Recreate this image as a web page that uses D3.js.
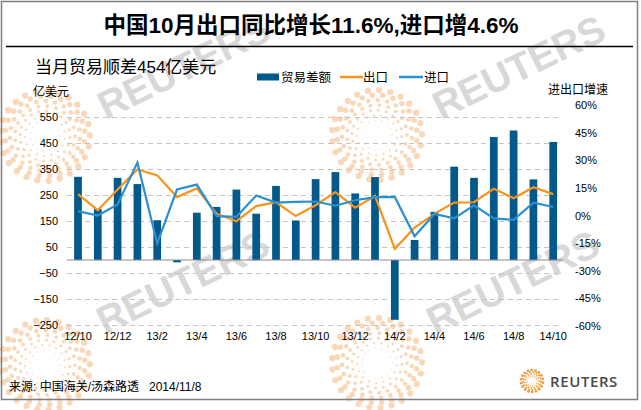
<!DOCTYPE html>
<html><head><meta charset="utf-8">
<script src="https://cdn.jsdelivr.net/npm/d3@7"></script>
<style>
body{margin:0;background:#fff;}
svg{display:block;font-family:"Liberation Sans","Noto Sans CJK SC",sans-serif;}
</style></head>
<body>
<div id="chart"></div>
<script>
// ---- data ----
const months = ["12/10","12/11","12/12","13/1","13/2","13/3","13/4","13/5","13/6","13/7","13/8","13/9","13/10","13/11","13/12","14/1","14/2","14/3","14/4","14/5","14/6","14/7","14/8","14/9","14/10"];
const tradeBalance = [320,196,316,292,153,-9,182,204,271,178,285,152,311,338,256,319,-230,77,185,359,316,473,498,310,454]; // 亿美元
const exportGrowth = [11.6,2.9,14.1,25.0,21.8,10.0,14.7,1.0,-3.1,5.1,7.2,-0.3,5.6,12.7,4.3,10.6,-18.1,-6.6,0.9,7.0,7.2,14.5,9.4,15.3,11.6]; // %
const importGrowth = [2.4,0.0,6.0,28.8,-15.2,14.1,16.8,-0.3,-0.7,10.9,7.0,7.4,7.6,5.3,8.3,10.0,10.1,-11.3,0.8,-1.6,5.5,-1.6,-2.4,7.0,4.6]; // %
const leftTicks = [-250,-150,-50,50,150,250,350,450,550];
const rightTicks = [-60,-45,-30,-15,0,15,30,45,60];
const xTickLabels = months.filter((d,i)=>i%2===0);
const seriesNames = ["贸易差额","出口","进口"];

const W=641,H=410;
const C={bar:"#02598a",exp:"#f7941d",imp:"#2a90d2",grid:"#c4c4c4",zero:"#8a8a8a"};
const svg=d3.select("#chart").append("svg").attr("width",W).attr("height",H);

// ---- decorative watermark ----
const deco=svg.append("g");
function dotCircle(cx,cy,scale,op){
  const g=deco.append("g").attr("opacity",op);
  for(let i=0;i<7;i++){
    const r=(15+i*5)*scale, dr=(0.7+i*0.4)*scale;
    const n=Math.round(2*Math.PI*r/(dr*2+5*scale));
    for(let k=0;k<n;k++){
      const a=k/n*2*Math.PI+i*0.5;
      g.append("circle").attr("cx",cx+r*Math.cos(a)).attr("cy",cy+r*Math.sin(a)).attr("r",dr).attr("fill","#f2b275");
    }
  }
}
[[45,136],[377,135],[45,365],[377,363]].forEach(p=>dotCircle(p[0],p[1],1,0.5));
[[106,120],[441,120],[105,335],[435,335]].forEach(p=>{
  deco.append("text").attr("transform",`translate(${p[0]},${p[1]}) rotate(-26)`)
    .attr("font-size",39).attr("font-weight","bold").attr("fill","#d8d8d8").text("REUTERS");
});

// ---- border, title ----
svg.append("rect").attr("x",1.5).attr("y",1.5).attr("width",636).attr("height",398)
  .attr("fill","none").attr("stroke","#7f7f7f").attr("stroke-width",1.5);
svg.append("text").attr("x",311).attr("y",33).attr("text-anchor","middle")
  .attr("font-size",22.5).attr("font-weight","bold").attr("fill","#000")
  .text("中国10月出口同比增长11.6%,进口增4.6%");
svg.append("line").attr("x1",6).attr("x2",633).attr("y1",46.5).attr("y2",46.5).attr("stroke","#000").attr("stroke-width",1.3);
svg.append("text").attr("x",35).attr("y",72.5).attr("font-size",17).attr("fill","#000").text("当月贸易顺差454亿美元");
svg.append("text").attr("x",33).attr("y",96).attr("font-size",12).attr("fill","#000").text("亿美元");
svg.append("text").attr("x",548).attr("y",94).attr("font-size",12).attr("fill","#000").text("进出口增速");

// ---- scales ----
const x=d3.scaleBand().domain(months).range([68.1,563.1]).paddingInner(0.61).paddingOuter(0.305);
const yL=d3.scaleLinear().domain([-250,550]).range([325,117]);
const yR=d3.scaleLinear().domain([-60,60]).range([326,105]);
const cx=d=>x(d)+x.bandwidth()/2;

// gridlines
const grid=svg.append("g").attr("transform","translate(67,0)")
  .call(d3.axisLeft(yL).tickValues(leftTicks).tickSize(-495).tickFormat(""));
grid.select(".domain").remove();
grid.selectAll(".tick line").attr("stroke",C.grid).attr("stroke-dasharray","5,4");

// axes labels
const ax=svg.append("g").attr("transform","translate(61,0)")
  .call(d3.axisLeft(yL).tickValues(leftTicks).tickSize(0).tickPadding(3));
ax.select(".domain").remove();
ax.selectAll("text").attr("font-size",11).attr("fill","#000").attr("font-family",null);
const ar=svg.append("g").attr("transform","translate(572,0)")
  .call(d3.axisRight(yR).tickValues(rightTicks).tickSize(0).tickPadding(3).tickFormat(d=>d+"%"));
ar.select(".domain").remove();
ar.selectAll("text").attr("font-size",11).attr("fill","#000").attr("font-family",null);
const axb=svg.append("g").attr("transform","translate(0,325)")
  .call(d3.axisBottom(x).tickValues(xTickLabels).tickSize(0).tickPadding(0));
axb.select(".domain").remove();
axb.selectAll("text").attr("font-size",11).attr("fill","#000").attr("font-family",null).attr("y",11).attr("dy","0.35em");

// bars
svg.append("g").selectAll("rect").data(months).join("rect")
  .attr("x",d=>x(d)).attr("width",x.bandwidth())
  .attr("y",(d,i)=>yL(Math.max(0,tradeBalance[i])))
  .attr("height",(d,i)=>Math.abs(yL(tradeBalance[i])-yL(0)))
  .attr("fill",C.bar);
// zero line
svg.append("line").attr("x1",67).attr("x2",563).attr("y1",yL(0)).attr("y2",yL(0)).attr("stroke",C.zero).attr("stroke-width",1);

// lines
const lineGen=arr=>d3.line().x(d=>cx(d)).y((d,i)=>yR(arr[i]))(months);
svg.append("path").attr("d",lineGen(exportGrowth)).attr("fill","none").attr("stroke",C.exp).attr("stroke-width",2.2);
svg.append("path").attr("d",lineGen(importGrowth)).attr("fill","none").attr("stroke",C.imp).attr("stroke-width",2.2);

// legend
const lg=svg.append("g");
lg.append("rect").attr("x",257).attr("y",73.5).attr("width",22).attr("height",7).attr("fill",C.bar);
lg.append("text").attr("x",281).attr("y",82).attr("font-size",12.5).text(seriesNames[0]);
lg.append("line").attr("x1",340).attr("x2",363).attr("y1",77).attr("y2",77).attr("stroke",C.exp).attr("stroke-width",2.5);
lg.append("text").attr("x",363).attr("y",82).attr("font-size",12.5).text(seriesNames[1]);
lg.append("line").attr("x1",399).attr("x2",423).attr("y1",77).attr("y2",77).attr("stroke",C.imp).attr("stroke-width",2.5);
lg.append("text").attr("x",424).attr("y",82).attr("font-size",12.5).text(seriesNames[2]);

// footer
svg.append("text").attr("x",9).attr("y",390.5).attr("font-size",12).attr("fill","#000")
  .attr("xml:space","preserve").text("来源: 中国海关/汤森路透   2014/11/8");
// Reuters logo
(function(){
  const g=svg.append("g");
  for(let i=0;i<4;i++){
    const r=5+i*2, dr=0.6+i*0.25, n=Math.round(2*Math.PI*r/(dr*2+1.2));
    for(let k=0;k<n;k++){
      const a=k/n*2*Math.PI+i*0.4;
      g.append("circle").attr("cx",532+r*Math.cos(a)).attr("cy",381+r*Math.sin(a)).attr("r",dr).attr("fill","#f39a3a");
    }
  }
  svg.append("text").attr("x",550).attr("y",387).attr("font-size",15).attr("font-weight",600)
    .attr("font-family","'Open Sans','Liberation Sans',sans-serif").attr("letter-spacing",0.6).attr("fill","#4a4a4a").text("REUTERS");
})();
</script>
</body></html>
